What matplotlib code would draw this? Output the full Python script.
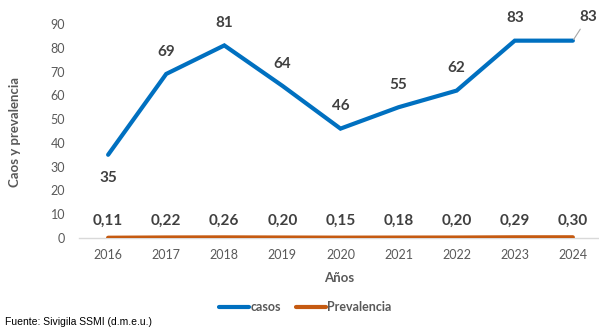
import matplotlib
matplotlib.use("Agg")
import matplotlib.pyplot as plt
from matplotlib.lines import Line2D

years = ["2016", "2017", "2018", "2019", "2020", "2021", "2022", "2023", "2024"]
casos = [35, 69, 81, 64, 46, 55, 62, 83, 83]
prevalencia = [0.11, 0.22, 0.26, 0.20, 0.15, 0.18, 0.20, 0.29, 0.30]
prev_labels = ["0,11", "0,22", "0,26", "0,20", "0,15", "0,18", "0,20", "0,29", "0,30"]
y_ticks = [0, 10, 20, 30, 40, 50, 60, 70, 80, 90]

BLUE = "#0070C0"
ORANGE = "#C55A11"
LABEL = "#404040"
TICK = "#595959"
FONT = ["Lato", "DejaVu Sans"]

plt.rcParams["font.family"] = FONT

fig = plt.figure(figsize=(5.99, 3.29), dpi=100)
ax = fig.add_axes([0.132, 0.2766, 0.868, 0.6504])

x = list(range(len(years)))
ax.plot(x, casos, color=BLUE, lw=3, solid_capstyle="round", solid_joinstyle="miter", zorder=3)
ax.plot(x, prevalencia, color=ORANGE, lw=3, solid_capstyle="round", zorder=3)

ax.set_xlim(-0.5, 8.45)
ax.set_ylim(0, 90)
ax.set_yticks(y_ticks)
ax.set_xticks(x)
ax.set_xticklabels(years)
ax.tick_params(axis="both", length=0, colors=TICK, labelsize=9)
ax.tick_params(axis="x", pad=8)
ax.tick_params(axis="y", pad=10)
for s in ["top", "right", "left"]:
    ax.spines[s].set_visible(False)
ax.spines["bottom"].set_color("#D9D9D9")
ax.spines["bottom"].set_linewidth(1)

# data labels for casos
for i, v in enumerate(casos):
    if i == 0:
        ax.annotate(str(v), (i, v), xytext=(0, -17), textcoords="offset points",
                    ha="center", va="center", fontsize=11, fontweight="bold", color=LABEL)
    elif i == len(casos) - 1:
        ax.annotate(str(v), (i, v), xytext=(11, 17), textcoords="offset points",
                    ha="center", va="center", fontsize=11, fontweight="bold", color=LABEL,
                    arrowprops=dict(arrowstyle="-", color="#A6A6A6", lw=0.8,
                                    shrinkA=2, shrinkB=1))
    else:
        ax.annotate(str(v), (i, v), xytext=(0, 16), textcoords="offset points",
                    ha="center", va="center", fontsize=11, fontweight="bold", color=LABEL)

# data labels for prevalencia
for i, (v, t) in enumerate(zip(prevalencia, prev_labels)):
    ax.annotate(t, (i, v), xytext=(0, 12), textcoords="offset points",
                ha="center", va="center", fontsize=11, fontweight="bold", color=LABEL)

ax.set_xlabel("Años", fontsize=9.5, fontweight="bold", color=TICK, labelpad=8)
fig.text(0.025, 0.6, "Caos y prevalencia", rotation=90, ha="center", va="center",
         fontsize=9.5, fontweight="bold", color=TICK)

handles = [Line2D([], [], color=BLUE, lw=3, solid_capstyle="round"),
           Line2D([], [], color=ORANGE, lw=3, solid_capstyle="round")]
leg = fig.legend(handles, ["casos", "Prevalencia"], loc="center", bbox_to_anchor=(0.51, 0.067),
                 ncol=2, frameon=False, fontsize=9, handlelength=2.4, handletextpad=0.1,
                 columnspacing=1.2)
for t in leg.get_texts():
    t.set_color(TICK)
    t.set_fontweight("bold")

fig.text(0.008, 0.022, "Fuente: Sivigila SSMI (d.m.e.u.)", fontsize=7.5,
         family=["Liberation Sans", "DejaVu Sans"], color="#000000", ha="left", va="center")

fig.savefig("out.png", dpi=100)
